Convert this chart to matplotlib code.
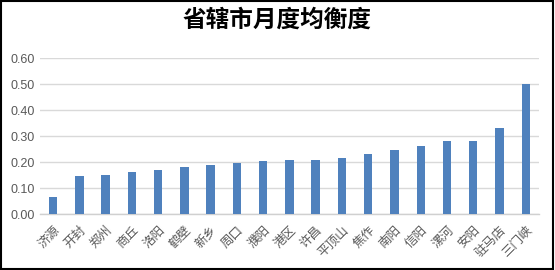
import matplotlib.pyplot as plt
from matplotlib.patches import Rectangle

# data
cities = ['济源', '开封', '郑州', '商丘', '洛阳', '鹤壁', '新乡', '周口', '濮阳', '港区',
          '许昌', '平顶山', '焦作', '南阳', '信阳', '漯河', '安阳', '驻马店', '三门峡']
values = [0.065, 0.146, 0.150, 0.162, 0.169, 0.181, 0.188, 0.196, 0.205, 0.208,
          0.208, 0.215, 0.231, 0.246, 0.262, 0.281, 0.281, 0.331, 0.500]
yticks = [0.0, 0.1, 0.2, 0.3, 0.4, 0.5, 0.6]

plt.rcParams['font.family'] = ['Noto Sans CJK SC', 'DejaVu Sans']

fig = plt.figure(figsize=(5.55, 2.70), dpi=100)
ax = fig.add_axes([0.072, 0.207, 0.899, 0.577])

x = list(range(len(cities)))
ax.bar(x, values, width=0.32, color='#4f81bd', zorder=3)

ax.set_xlim(-0.5, len(cities) - 0.5)
ax.set_ylim(0, 0.6)
ax.set_yticks(yticks)
ax.set_yticklabels(['{:.2f}'.format(v) for v in yticks], fontsize=9, color='#595959',
                   family=['Liberation Sans', 'DejaVu Sans'])
ax.set_xticks(x)
ax.set_xticklabels(cities, rotation=45, ha='right', rotation_mode='anchor',
                   fontsize=9, color='#595959')
ax.tick_params(axis='both', length=0, pad=4)
ax.tick_params(axis='x', pad=7)

ax.grid(axis='y', color='#d9d9d9', linewidth=1, zorder=0)
for s in ['top', 'right', 'left']:
    ax.spines[s].set_visible(False)
ax.spines['bottom'].set_color('#d0d0d0')
ax.spines['bottom'].set_linewidth(1)

fig.suptitle('省辖市月度均衡度', fontsize=17, fontweight='bold', y=0.97)

# outer frame
fig.patches.append(Rectangle((0.002, 0.003), 0.995, 0.993, transform=fig.transFigure,
                             fill=False, edgecolor='black', linewidth=1.5))

fig.savefig('out.png', dpi=100)
